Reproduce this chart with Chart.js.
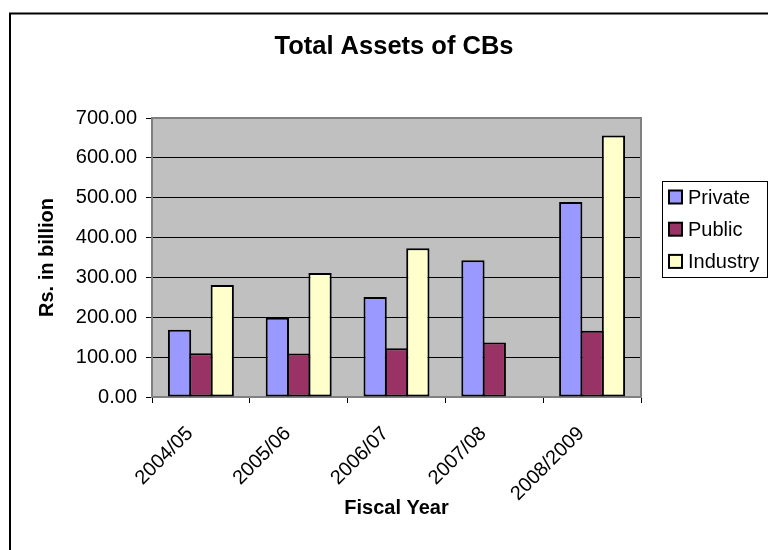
<!DOCTYPE html>
<html lang="en">
<head>
  <meta charset="UTF-8" />
  <title>Total Assets of CBs</title>
  <script src="https://cdn.jsdelivr.net/npm/chart.js"></script>
  <style>
    body {
      margin: 0;
      background: #fff;
    }
    canvas {
      display: block;
    }
  </style>
</head>
<body>

<canvas id="assets-chart" width="768" height="550"></canvas>

<script>
  const fiscalYears = ['2004/05', '2005/06', '2006/07', '2007/08', '2008/2009'];
  const privateAssets = [169, 199, 251, 343, 489];
  const publicAssets = [110, 109, 122, 137, 166];
  const industryAssets = [281, 311, 373, null, 656];

  const FONT = '"Liberation Sans", Arial, sans-serif';

  // plot background, frame, title and boxed legend in the old spreadsheet style
  const sheetStyle = {
    id: 'sheetStyle',
    beforeDraw(chart) {
      const { ctx, chartArea: a } = chart;
      ctx.save();
      ctx.fillStyle = '#fff';
      ctx.fillRect(0, 0, chart.width, chart.height);
      ctx.fillStyle = '#c0c0c0';
      ctx.fillRect(a.left, a.top, a.right - a.left, a.bottom - a.top);
      ctx.restore();
    },
    beforeDatasetsDraw(chart) {
      const { ctx, chartArea: a } = chart;
      ctx.save();
      ctx.strokeStyle = '#808080';
      ctx.lineWidth = 2;
      ctx.strokeRect(a.left, a.top, a.right - a.left, a.bottom - a.top);
      ctx.restore();
    },
    afterDraw(chart) {
      const ctx = chart.ctx;
      ctx.save();

      // outer frame
      ctx.strokeStyle = '#000';
      ctx.lineWidth = 2;
      ctx.beginPath();
      ctx.moveTo(10, 550);
      ctx.lineTo(10, 13.5);
      ctx.lineTo(768, 13.5);
      ctx.stroke();

      // title
      ctx.fillStyle = '#000';
      ctx.font = 'bold 25.5px ' + FONT;
      ctx.textAlign = 'center';
      ctx.textBaseline = 'middle';
      ctx.fillText('Total Assets of CBs', 394, 47);

      // legend box
      ctx.lineWidth = 1;
      ctx.strokeRect(662.5, 181.5, 105, 96);
      ctx.font = '20px ' + FONT;
      ctx.textAlign = 'left';
      chart.data.datasets.forEach((ds, i) => {
        const yc = 197 + i * 32.2;
        ctx.fillStyle = ds.backgroundColor;
        ctx.fillRect(669, yc - 6.5, 13, 13);
        ctx.lineWidth = 2;
        ctx.strokeStyle = '#000';
        ctx.strokeRect(669, yc - 6.5, 13, 13);
        ctx.fillStyle = '#000';
        ctx.fillText(ds.label, 688, yc + 1);
      });

      ctx.restore();
    }
  };

  const ctx = document.getElementById('assets-chart');

  new Chart(ctx, {
    type: 'bar',
    data: {
      labels: fiscalYears,
      datasets: [
        { label: 'Private', data: privateAssets, backgroundColor: '#9999ff' },
        { label: 'Public', data: publicAssets, backgroundColor: '#993366' },
        { label: 'Industry', data: industryAssets, backgroundColor: '#ffffcc' }
      ]
    },
    options: {
      responsive: false,
      animation: false,
      layout: {
        padding: { left: 10, right: 127, top: 118, bottom: 0 }
      },
      datasets: {
        bar: {
          borderColor: '#000',
          borderWidth: 2,
          borderSkipped: false,
          categoryPercentage: 0.655,
          barPercentage: 1.09
        }
      },
      scales: {
        x: {
          afterFit: (scale) => { scale.height = 153; },
          border: { display: false },
          grid: {
            drawOnChartArea: false,
            drawTicks: true,
            tickLength: 6,
            tickColor: '#000'
          },
          ticks: {
            autoSkip: false,
            minRotation: 45,
            maxRotation: 45,
            padding: 19,
            labelOffset: -11,
            color: '#000',
            font: { family: FONT, size: 20 }
          },
          title: {
            display: true,
            text: 'Fiscal Year',
            color: '#000',
            font: { family: FONT, size: 20, weight: 'bold' },
            padding: { top: 0, bottom: 30 }
          }
        },
        y: {
          min: 0,
          max: 700,
          afterFit: (scale) => { scale.width = 142; },
          border: { display: false },
          grid: {
            color: '#000',
            lineWidth: 1,
            tickLength: 6,
            tickColor: '#000'
          },
          ticks: {
            stepSize: 100,
            padding: 9,
            color: '#000',
            font: { family: FONT, size: 20 },
            callback: (v) => v.toFixed(2)
          },
          title: {
            display: true,
            text: 'Rs. in billion',
            color: '#000',
            font: { family: FONT, size: 20, weight: 'bold' },
            padding: { top: 25, bottom: 0 }
          }
        }
      },
      plugins: {
        legend: { display: false },
        tooltip: { enabled: false }
      }
    },
    plugins: [sheetStyle]
  });
</script>

</body>
</html>
